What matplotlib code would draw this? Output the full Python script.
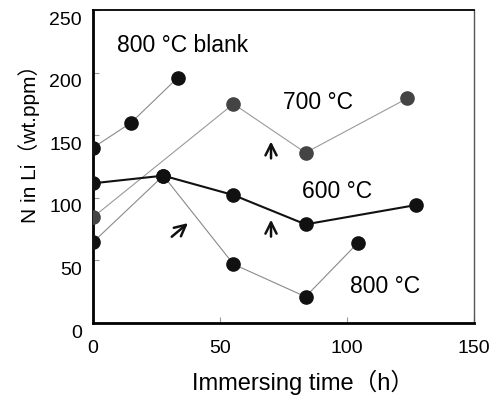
import matplotlib
matplotlib.use('Agg')
import matplotlib.pyplot as plt
import matplotlib.transforms as mtransforms

# 폰트 설정 (전각 괄호용 CJK 폰트 포함)
plt.rcParams['font.family'] = ['Liberation Sans', 'Noto Sans CJK JP']

# 데이터
blank_t = [0, 15, 33.4]
blank_n = [140, 160, 196]

t700 = [0, 55.3, 83.7, 123.8]
n700 = [84.5, 175, 136, 179.5]

t600 = [0, 27.7, 55.3, 83.7, 127.1]
n600 = [111.6, 117.7, 102.2, 78.8, 94.2]

t800 = [0, 27.7, 55.3, 83.7, 104.3]
n800 = [64.5, 117.7, 47, 21, 64]

# 그래프 설정
fig = plt.figure(figsize=(4.96, 3.96), dpi=100)
ax = fig.add_axes([0.1875, 0.1843, 0.768, 0.7904])

ms = 9.5
ax.plot(blank_t, blank_n, '-', color='#8a8a8a', lw=0.8, marker='o', ms=ms,
        mfc='#111111', mec='#111111', zorder=3)
ax.plot(t700, n700, '-', color='#9a9a9a', lw=0.8, marker='o', ms=ms,
        mfc='#444444', mec='#444444', zorder=3)
ax.plot(t800, n800, '-', color='#8a8a8a', lw=0.8, marker='o', ms=ms,
        mfc='#111111', mec='#111111', zorder=3)
ax.plot(t600, n600, '-', color='#111111', lw=1.5, marker='o', ms=ms,
        mfc='#111111', mec='#111111', zorder=4)

# 라벨
tfs = 16.5
ax.text(9.5, 222, '800 °C blank', fontsize=tfs, va='center', ha='left')
ax.text(74.9, 176.5, '700 °C', fontsize=tfs, va='center', ha='left')
ax.text(82.2, 104.9, '600 °C', fontsize=tfs, va='center', ha='left')
ax.text(101.3, 29, '800 °C', fontsize=tfs, va='center', ha='left')

# 화살표
arrow = dict(arrowstyle='->', lw=1.8, color='#111111', mutation_scale=20,
             shrinkA=0, shrinkB=0)
ax.annotate('', xy=(70.1, 145), xytext=(70.1, 131.5), arrowprops=arrow)
ax.annotate('', xy=(70.1, 82.5), xytext=(70.1, 69), arrowprops=arrow)
ax.annotate('', xy=(37.4, 79.8), xytext=(31.0, 68.9), arrowprops=arrow)

# 축 설정
ax.set_xlim(0, 150)
ax.set_ylim(0, 250)
ax.set_xticks([0, 50, 100, 150])
ax.set_yticks([0, 50, 100, 150, 200, 250])
ax.tick_params(direction='in', length=4, width=0.8, color='#999999',
               labelsize=14)
ax.tick_params(axis='x', pad=12)
ax.tick_params(axis='y', pad=8)

# y 눈금 라벨을 조금 아래로
offset = mtransforms.ScaledTranslation(0, -0.08, fig.dpi_scale_trans)
for lbl in ax.get_yticklabels():
    lbl.set_transform(lbl.get_transform() + offset)

ax.spines['left'].set_linewidth(2)
ax.spines['bottom'].set_linewidth(2)
ax.spines['top'].set_linewidth(1.3)
ax.spines['right'].set_linewidth(1.0)
ax.spines['right'].set_color('#555555')

ax.set_xlabel('Immersing time（h）', fontsize=17)
ax.xaxis.set_label_coords(0.55, -0.15)
ax.set_ylabel('N in Li（wt.ppm）', fontsize=15)
ax.yaxis.set_label_coords(-0.14, 0.59)

plt.savefig('out.png', dpi=100)
